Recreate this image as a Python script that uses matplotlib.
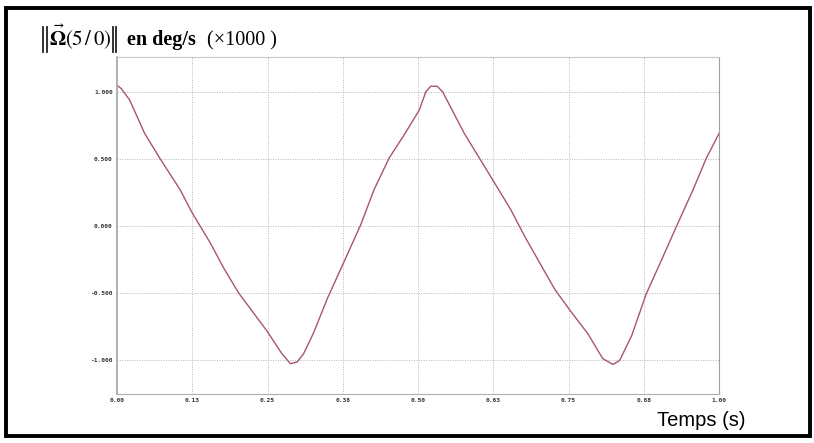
import matplotlib
matplotlib.use("Agg")
import matplotlib.pyplot as plt
from matplotlib.patches import Rectangle
from matplotlib.lines import Line2D

# values (time in s, omega x1000 deg/s)
temps = [0.000, 0.007, 0.021, 0.046, 0.071, 0.105, 0.125, 0.155, 0.177, 0.202,
         0.249, 0.274, 0.288, 0.299, 0.310, 0.327, 0.349, 0.374, 0.405, 0.427,
         0.452, 0.477, 0.502, 0.513, 0.521, 0.532, 0.541, 0.577, 0.602, 0.622,
         0.654, 0.677, 0.705, 0.727, 0.753, 0.782, 0.807, 0.824, 0.835, 0.855,
         0.879, 0.905, 0.932, 0.957, 0.979, 1.000]
omega = [1.050, 1.025, 0.940, 0.690, 0.507, 0.270, 0.098, -0.125, -0.310, -0.497,
         -0.780, -0.950, -1.024, -1.012, -0.950, -0.790, -0.543, -0.296, 0.012, 0.272,
         0.507, 0.680, 0.864, 1.000, 1.042, 1.042, 1.000, 0.690, 0.507, 0.360,
         0.124, -0.074, -0.296, -0.469, -0.630, -0.800, -0.987, -1.030, -1.000, -0.815,
         -0.506, -0.247, 0.025, 0.272, 0.507, 0.690]

xticks = [0.0, 0.125, 0.25, 0.375, 0.5, 0.625, 0.75, 0.875, 1.0]
xlabels = ['0.00', '0.13', '0.25', '0.38', '0.50', '0.63', '0.75', '0.88', '1.00']
yticks = [1.0, 0.5, 0.0, -0.5, -1.0]
ylabels = ['1.000', '0.500', '0.000', '-0.500', '-1.000']

plt.rcParams['mathtext.fontset'] = 'stix'

W, H = 814, 443
fig = plt.figure(figsize=(W / 100, H / 100), dpi=100)

# black frame around everything
fig.patches.append(Rectangle((6 / W, 1 - 436 / H), 804 / W, 428 / H,
                             transform=fig.transFigure, fill=False,
                             edgecolor='black', linewidth=2.8))

ax = fig.add_axes([117 / W, 1 - 394 / H, 602 / W, 337 / H])
ax.plot(temps, omega, color='#a8566a', linewidth=1.0)

ax.set_xlim(0, 1)
ax.set_ylim(-1.25, 1.26)
ax.set_xticks(xticks)
ax.set_xticklabels(xlabels, fontsize=4.5, family='DejaVu Sans Mono',
                   color='#333333', fontweight='bold')
ax.set_yticks(yticks)
ax.set_yticklabels(ylabels, fontsize=4.5, family='DejaVu Sans Mono',
                   color='#333333', fontweight='bold')
ax.tick_params(length=0, pad=3)
ax.grid(True, color='#b5b5b5', linestyle=(0, (1, 1.5)), linewidth=0.7)

for s in ax.spines.values():
    s.set_color('#c8c8c8')
    s.set_linewidth(0.8)
ax.spines['left'].set_linewidth(1.4)
ax.spines['left'].set_color('#b0b0b0')
ax.spines['bottom'].set_color('#b0b0b0')
ax.spines['right'].set_color('#a0a0a0')

# title: norm bars drawn as lines, then vector omega and units
for bx in [43, 46.5, 112.5, 116]:
    fig.add_artist(Line2D([bx / W, bx / W], [1 - 27 / H, 1 - 52 / H],
                          transform=fig.transFigure, color='#222222',
                          linewidth=1.3))
tb = 1 - 45 / H
fig.text(49 / W, tb, r'$\vec{\mathbf{\Omega}}(5\,/\,0)$', fontsize=15,
         va='baseline', ha='left')
fig.text(127 / W, tb, 'en deg/s', fontsize=14.5, fontweight='bold',
         family='Liberation Serif', va='baseline', ha='left')
fig.text(207 / W, tb, '(×1000 )', fontsize=14.5,
         family='Liberation Serif', va='baseline', ha='left')

fig.text(701 / W, 1 - 420 / H, 'Temps (s)', fontsize=14.5,
         family='Liberation Sans', va='center', ha='center')

fig.savefig('out.png', dpi=100)
